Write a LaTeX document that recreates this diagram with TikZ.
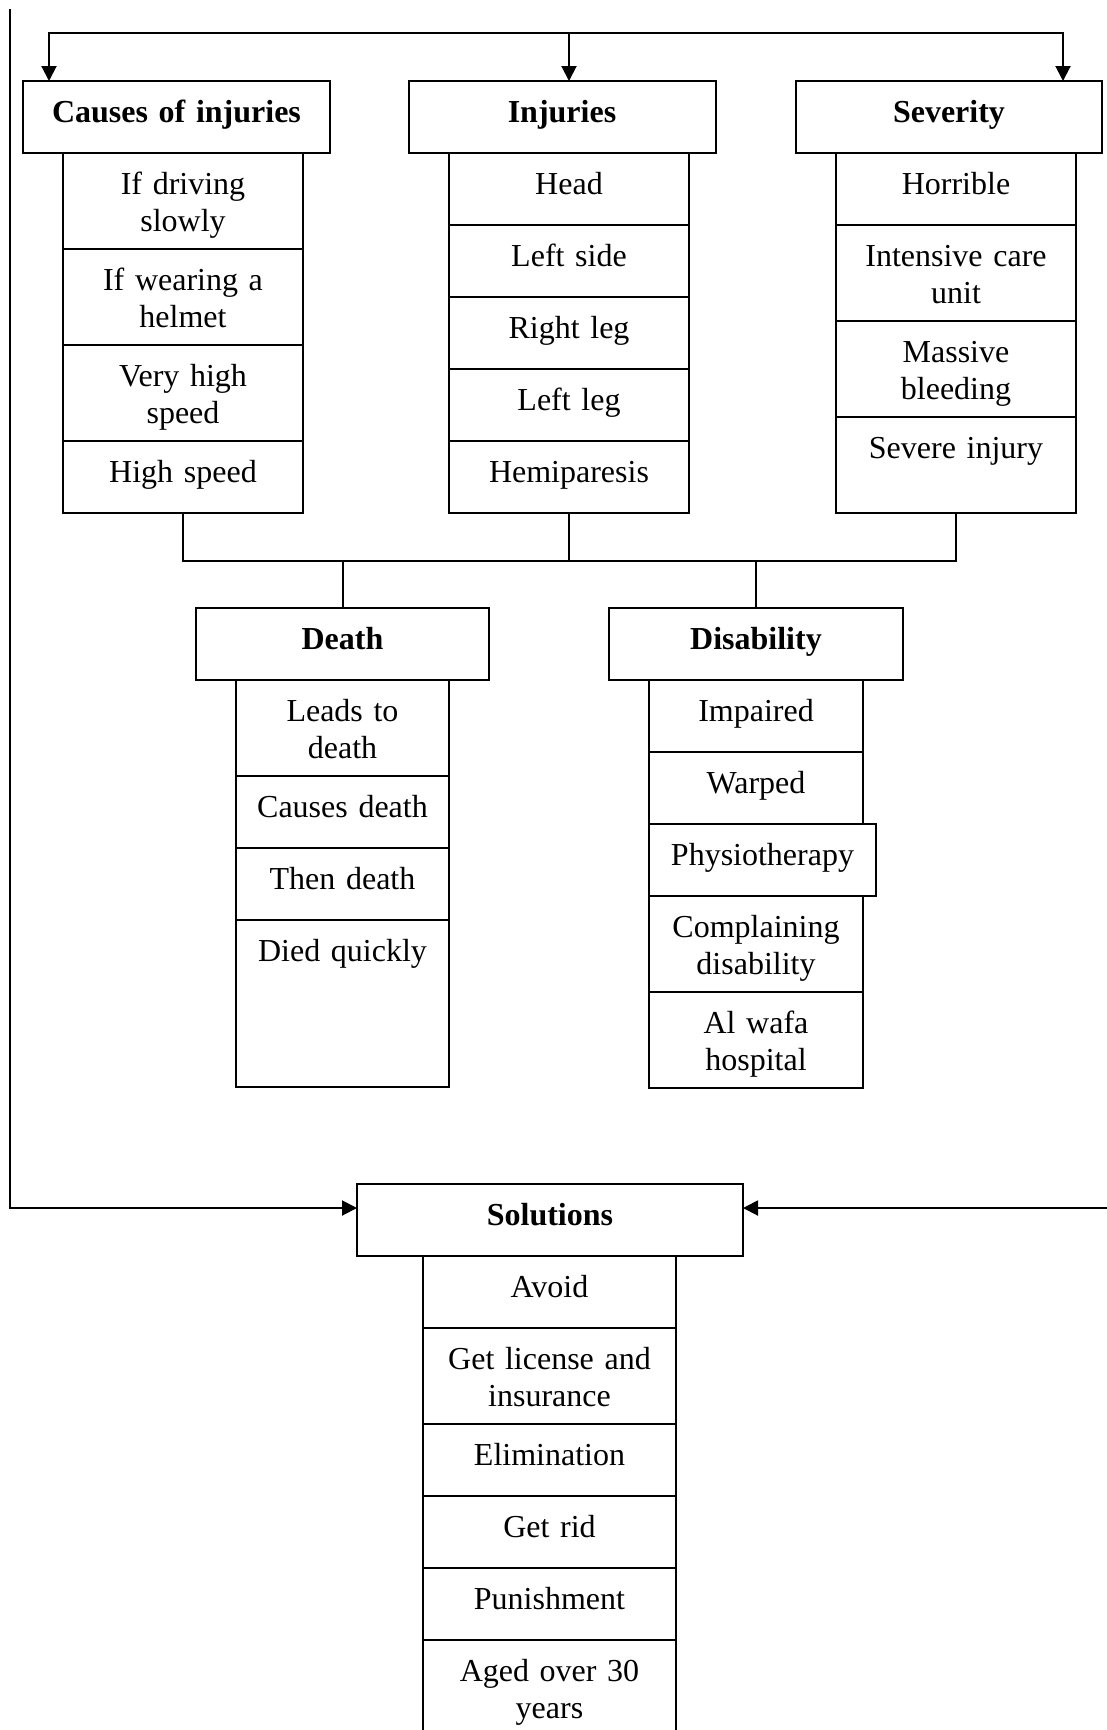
\documentclass[tikz,border=0pt]{standalone}
\usepackage{fontspec}
\setmainfont{Liberation Serif}
\usetikzlibrary{arrows.meta}
\usetikzlibrary{positioning}
\tikzset{
  box/.style={draw, inner sep=0pt, outer sep=0pt, align=center, text width=#1,
    text height=20.75pt, text depth=15.25pt, font=\fontsize{16}{18.4}\selectfont},
  head/.style={box=#1, font=\fontsize{16}{18.4}\selectfont\bfseries},
  tall/.style={text depth=27.25pt}
}
\begin{document}
\begin{tikzpicture}[x=0.5pt, y=-0.5pt, line width=1pt, >={Triangle[length=7.5pt,width=7.5pt]}]
        \useasboundingbox (0,0) rectangle (1107,1730);

        \node[head=153.5pt, anchor=north] (causes)   at (176.5,81) {Causes of injuries};
        \node[head=153.5pt, anchor=north] (injuries) at (562,81)   {Injuries};
        \node[head=153pt,   anchor=north] (severity) at (949,81)   {Severity};

        \node[box=120pt, tall, anchor=north] (c1) at (183,153) {If driving\\slowly};
        \node[box=120pt, tall, below=0pt of c1] (c2) {If wearing a\\helmet};
        \node[box=120pt, tall, below=0pt of c2] (c3) {Very high\\speed};
        \node[box=120pt,       below=0pt of c3] (c4) {High speed};

        \node[box=120pt, anchor=north] (i1) at (569,153) {Head};
        \node[box=120pt, below=0pt of i1] (i2) {Left side};
        \node[box=120pt, below=0pt of i2] (i3) {Right leg};
        \node[box=120pt, below=0pt of i3] (i4) {Left leg};
        \node[box=120pt, below=0pt of i4] (i5) {Hemiparesis};

        \node[box=120pt, anchor=north] (s1) at (956,153) {Horrible};
        \node[box=120pt, tall, below=0pt of s1] (s2) {Intensive care\\unit};
        \node[box=120pt, tall, below=0pt of s2] (s3) {Massive\\bleeding};
        \node[box=120pt, tall, below=0pt of s3] (s4) {Severe injury};

        \coordinate (bus) at (0,561);
        \draw (c4.south) -- (c4.south |- bus) -- (s4.south |- bus) -- (s4.south);
        \draw (i5.south) -- (i5.south |- bus);

        \node[head=146.5pt, anchor=north] (death) at (342.5,608) {Death};
        \node[head=147pt,   anchor=north] (disab) at (756,608)   {Disability};
        \draw (death.north) -- (death.north |- bus);
        \draw (disab.north) -- (disab.north |- bus);

        \node[box=106.5pt, tall, below=0pt of death] (de1) {Leads to\\death};
        \node[box=106.5pt, below=0pt of de1] (de2) {Causes death};
        \node[box=106.5pt, below=0pt of de2] (de3) {Then death};
        \node[box=106.5pt, text depth=62.75pt, below=0pt of de3] (de4) {Died quickly};

        \node[box=107pt, below=0pt of disab] (di1) {Impaired};
        \node[box=107pt, below=0pt of di1] (di2) {Warped};
        \node[box=113.5pt, anchor=north west] (di3) at (di2.south west) {Physiotherapy};
        \node[box=107pt, tall, anchor=north] (di4) at (di2.south |- di3.south) {Complaining\\disability};
        \node[box=107pt, tall, below=0pt of di4] (di5) {Al wafa\\hospital};

        \node[head=193pt, anchor=north] (solutions) at (550,1184) {Solutions};
        \node[box=126.5pt, anchor=north] (so1) at (549.5,1256) {Avoid};
        \node[box=126.5pt, tall, below=0pt of so1] (so2) {Get license and\\insurance};
        \node[box=126.5pt, below=0pt of so2] (so3) {Elimination};
        \node[box=126.5pt, below=0pt of so3] (so4) {Get rid};
        \node[box=126.5pt, below=0pt of so4] (so5) {Punishment};
        \node[box=126.5pt, text depth=34.25pt, below=0pt of so5] (so6) {Aged over 30\\years};

        \coordinate (tl) at (49,33);
        \coordinate (tr) at (1063,33);
        \draw[<->] (tl |- causes.north) -- (tl) -- (tr) -- (tr |- severity.north);
        \draw[->] (i1.north |- tl) -- (i1.north |- injuries.north);

        \coordinate (lf) at (10,9);
        \coordinate (rf) at (1107,1208);
        \draw[->] (lf) |- (solutions.west |- rf);
        \draw[->] (rf) -- (solutions.east |- rf);
    \end{tikzpicture}
\end{document}
